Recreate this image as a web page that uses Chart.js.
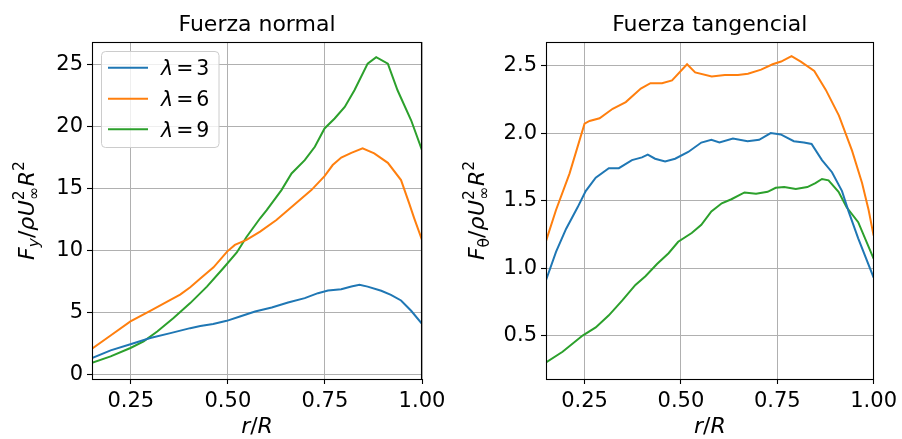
<!DOCTYPE html>
<html><head><meta charset="utf-8">
<script src="https://cdn.jsdelivr.net/npm/chart.js@4"></script>
<style>
html,body{margin:0;padding:0;background:#fff;}
#wrap{position:relative;width:902px;height:439px;overflow:hidden;}
canvas{position:absolute;top:0;}
</style></head><body>
<div id="wrap">
<canvas id="c1" width="451" height="439" style="left:0"></canvas>
<canvas id="c2" width="451" height="439" style="left:451px"></canvas>
</div>
<script>
// ---------- data ----------
const seriesLabels = ['3', '6', '9'];
const colors = ['#1f77b4', '#ff7f0e', '#2ca02c'];

// Fuerza normal
const rN3 = [0.15, 0.198, 0.249, 0.300, 0.352, 0.403, 0.429, 0.462, 0.497, 0.531, 0.570, 0.613, 0.655, 0.698, 0.732, 0.758, 0.792, 0.818, 0.839, 0.860, 0.895, 0.920, 0.946, 0.972, 1.0];
const fN3 = [1.33, 1.96, 2.45, 2.95, 3.35, 3.75, 3.92, 4.08, 4.34, 4.69, 5.09, 5.42, 5.82, 6.17, 6.57, 6.78, 6.89, 7.10, 7.24, 7.10, 6.76, 6.44, 5.98, 5.15, 4.1];
const rN6 = [0.15, 0.198, 0.249, 0.300, 0.352, 0.377, 0.403, 0.429, 0.463, 0.498, 0.518, 0.548, 0.583, 0.625, 0.655, 0.715, 0.749, 0.770, 0.792, 0.818, 0.847, 0.877, 0.912, 0.946, 0.967, 0.980, 1.0];
const fN6 = [2.1, 3.16, 4.29, 5.15, 6.03, 6.45, 7.05, 7.75, 8.65, 9.92, 10.46, 10.86, 11.53, 12.47, 13.27, 14.88, 16.0, 16.9, 17.5, 17.88, 18.24, 17.84, 17.08, 15.69, 13.81, 12.6, 10.86];
const rN9 = [0.15, 0.198, 0.249, 0.283, 0.318, 0.360, 0.403, 0.446, 0.488, 0.523, 0.548, 0.583, 0.600, 0.638, 0.664, 0.698, 0.724, 0.749, 0.775, 0.801, 0.826, 0.860, 0.882, 0.912, 0.937, 0.972, 1.0];
const fN9 = [0.95, 1.47, 2.15, 2.68, 3.48, 4.56, 5.77, 7.10, 8.58, 9.85, 11.1, 12.61, 13.27, 14.88, 16.22, 17.3, 18.37, 19.85, 20.65, 21.58, 22.93, 25.08, 25.6, 25.08, 22.93, 20.51, 18.1];

// Fuerza tangencial
const rT3 = [0.15, 0.176, 0.202, 0.232, 0.253, 0.279, 0.313, 0.339, 0.373, 0.399, 0.414, 0.433, 0.459, 0.485, 0.519, 0.553, 0.579, 0.600, 0.635, 0.673, 0.703, 0.733, 0.759, 0.793, 0.819, 0.839, 0.866, 0.892, 0.918, 0.935, 0.960, 1.0];
const fT3 = [0.91, 1.12, 1.29, 1.45, 1.57, 1.67, 1.74, 1.74, 1.80, 1.82, 1.84, 1.81, 1.79, 1.81, 1.86, 1.93, 1.95, 1.93, 1.96, 1.94, 1.95, 2.00, 1.99, 1.94, 1.93, 1.92, 1.80, 1.71, 1.57, 1.42, 1.22, 0.93];
const rT6 = [0.15, 0.176, 0.211, 0.25, 0.263, 0.289, 0.323, 0.357, 0.396, 0.421, 0.451, 0.477, 0.516, 0.537, 0.580, 0.614, 0.648, 0.674, 0.708, 0.738, 0.760, 0.787, 0.811, 0.846, 0.876, 0.910, 0.944, 0.970, 0.987, 1.0];
const fT6 = [1.2, 1.43, 1.70, 2.07, 2.09, 2.11, 2.18, 2.23, 2.33, 2.37, 2.37, 2.39, 2.51, 2.45, 2.42, 2.43, 2.43, 2.44, 2.47, 2.51, 2.53, 2.57, 2.53, 2.46, 2.32, 2.13, 1.87, 1.63, 1.43, 1.24];
const rT9 = [0.15, 0.193, 0.245, 0.279, 0.313, 0.348, 0.382, 0.408, 0.438, 0.468, 0.493, 0.528, 0.553, 0.579, 0.606, 0.631, 0.665, 0.695, 0.725, 0.746, 0.768, 0.798, 0.828, 0.849, 0.866, 0.883, 0.909, 0.930, 0.960, 1.0];
const fT9 = [0.30, 0.38, 0.50, 0.56, 0.65, 0.76, 0.875, 0.94, 1.03, 1.11, 1.195, 1.26, 1.32, 1.42, 1.48, 1.51, 1.56, 1.55, 1.565, 1.595, 1.60, 1.585, 1.60, 1.63, 1.66, 1.65, 1.565, 1.45, 1.34, 1.07];

const xTicks = [0.25, 0.50, 0.75, 1.00];
const yTicksN = [0, 5, 10, 15, 20, 25];
const yTicksT = [0.5, 1.0, 1.5, 2.0, 2.5];
const titles = ['Fuerza normal', 'Fuerza tangencial'];

// ---------- helpers ----------
const FONT = '"DejaVu Sans", "Liberation Sans", sans-serif';
const FS = 21;      // tick labels
const FT = 22;      // titles
const FL = 22;      // axis labels
const FSUB = 15.5;  // sub/superscripts
function pts(xs, ys) { return xs.map((v, i) => ({ x: v, y: ys[i] })); }

function drawMath(ctx, pieces, x0, y0) {
  let x = x0;
  for (const p of pieces) {
    if (p.stack) {
      let w = 0;
      for (const q of p.stack) {
        ctx.font = (q.it ? 'italic ' : '') + q.s + 'px ' + FONT;
        ctx.fillText(q.t, x, y0 + q.dy);
        w = Math.max(w, ctx.measureText(q.t).width);
      }
      x += w;
    } else {
      ctx.font = (p.it ? 'italic ' : '') + p.s + 'px ' + FONT;
      ctx.fillText(p.t, x + (p.dx || 0), y0 + p.dy);
      x += ctx.measureText(p.t).width + (p.dx || 0);
    }
  }
  return x - x0;
}
function mathWidth(ctx, pieces) {
  let w = 0;
  for (const p of pieces) {
    if (p.stack) {
      let m = 0;
      for (const q of p.stack) { ctx.font = (q.it ? 'italic ' : '') + q.s + 'px ' + FONT; m = Math.max(m, ctx.measureText(q.t).width); }
      w += m;
    } else { ctx.font = (p.it ? 'italic ' : '') + p.s + 'px ' + FONT; w += ctx.measureText(p.t).width + (p.dx || 0); }
  }
  return w;
}

function ylabelPieces(sub) {
  return [
    { t: 'F', it: true, s: FL, dy: 0 },
    { t: sub, it: sub === 'y', s: FSUB, dy: 4.5 },
    { t: '/', it: false, s: FL, dy: 0 },
    { t: 'ρ', it: true, s: FL, dy: 0 },
    { t: 'U', it: true, s: FL, dy: 0, dx: 0.5 },
    { stack: [{ t: '∞', it: false, s: FSUB, dy: 4.5 }, { t: '2', it: false, s: FSUB, dy: -10 }] },
    { t: 'R', it: true, s: FL, dy: 0, dx: 1 },
    { t: '2', it: false, s: FSUB, dy: -10 }
  ];
}

const decorPlugin = {
  id: 'decor',
  afterDraw(chart, args, o) {
    const ctx = chart.ctx, a = chart.chartArea;
    ctx.save();
    // frame
    ctx.strokeStyle = '#000'; ctx.lineWidth = 1.1;
    ctx.strokeRect(Math.round(a.left) + 0.5, Math.round(a.top) + 0.5, Math.round(a.right - a.left) - 1, Math.round(a.bottom - a.top));
    ctx.fillStyle = '#000';
    ctx.textBaseline = 'alphabetic';
    // title
    ctx.font = FT + 'px ' + FONT; ctx.textAlign = 'center';
    ctx.fillText(o.title, (a.left + a.right) / 2, 31);
    ctx.textAlign = 'left';
    // x label r/R
    const xl = [{ t: 'r', it: true, s: FL, dy: 0 }, { t: '/', it: false, s: FL, dy: 0 }, { t: 'R', it: true, s: FL, dy: 0 }];
    const xw = mathWidth(ctx, xl);
    drawMath(ctx, xl, (a.left + a.right) / 2 - xw / 2, 433);
    // y label
    const yl = ylabelPieces(o.sub);
    const yw = mathWidth(ctx, yl);
    ctx.save();
    ctx.translate(o.ylx, (a.top + a.bottom) / 2);
    ctx.rotate(-Math.PI / 2);
    drawMath(ctx, yl, -yw / 2, 0);
    ctx.restore();
    // legend
    if (o.legend) {
      const lx = 101.5, ly = 51.5, lw = 117.5, lh = 96, r = 4;
      ctx.beginPath();
      ctx.moveTo(lx + r, ly); ctx.lineTo(lx + lw - r, ly); ctx.arcTo(lx + lw, ly, lx + lw, ly + r, r);
      ctx.lineTo(lx + lw, ly + lh - r); ctx.arcTo(lx + lw, ly + lh, lx + lw - r, ly + lh, r);
      ctx.lineTo(lx + r, ly + lh); ctx.arcTo(lx, ly + lh, lx, ly + lh - r, r);
      ctx.lineTo(lx, ly + r); ctx.arcTo(lx, ly, lx + r, ly, r); ctx.closePath();
      ctx.fillStyle = 'rgba(255,255,255,0.8)'; ctx.fill();
      ctx.strokeStyle = '#cccccc'; ctx.lineWidth = 1; ctx.stroke();
      const rows = [67.7, 98.7, 129.3];
      seriesLabels.forEach((lab, i) => {
        ctx.strokeStyle = colors[i]; ctx.lineWidth = 2;
        ctx.beginPath(); ctx.moveTo(108, rows[i]); ctx.lineTo(148, rows[i]); ctx.stroke();
        ctx.fillStyle = '#000';
        drawMath(ctx, [{ t: 'λ', it: true, s: 20.5, dy: 0 }, { t: '=', it: false, s: 20.5, dy: 0, dx: 3 }, { t: lab, it: false, s: 20.5, dy: 0, dx: 3 }], 161, rows[i] + 7.5);
      });
    }
    ctx.restore();
  }
};

function makePanel(id, data, yMin, yMax, yTicks, yFmt, yWidth, rightPad, deco) {
  return new Chart(document.getElementById(id), {
    type: 'line',
    data: {
      datasets: data.map((d, i) => ({
        label: 'λ = ' + seriesLabels[i],
        data: d,
        borderColor: colors[i],
        borderWidth: 2,
        pointRadius: 0,
        tension: 0,
        fill: false
      }))
    },
    options: {
      responsive: false,
      animation: false,
      devicePixelRatio: 1,
      layout: { padding: { left: 0, top: 42, right: rightPad, bottom: 0 } },
      plugins: { legend: { display: false }, title: { display: false }, tooltip: { enabled: false }, decor: deco },
      scales: {
        x: {
          type: 'linear', min: 0.15, max: 1.0,
          afterBuildTicks: s => { s.ticks = xTicks.map(v => ({ value: v })); },
          afterFit: s => { s.height = 60; },
          ticks: { callback: v => v.toFixed(2), font: { family: FONT, size: FS }, color: '#000', padding: 5, maxRotation: 0, autoSkip: false },
          grid: { color: '#b0b0b0', lineWidth: 1, tickLength: 5, tickColor: '#000', tickWidth: 1.1 },
          border: { display: false }
        },
        y: {
          type: 'linear', min: yMin, max: yMax,
          afterBuildTicks: s => { s.ticks = yTicks.map(v => ({ value: v })); },
          afterFit: s => { s.width = yWidth; },
          ticks: { callback: yFmt, font: { family: FONT, size: FS }, color: '#000', padding: 4, autoSkip: false },
          grid: { color: '#b0b0b0', lineWidth: 1, tickLength: 5, tickColor: '#000', tickWidth: 1.1 },
          border: { display: false }
        }
      }
    },
    plugins: [decorPlugin]
  });
}

makePanel('c1', [pts(rN3, fN3), pts(rN6, fN6), pts(rN9, fN9)], -0.35, 26.82, yTicksN, v => String(v), 92, 29,
  { title: titles[0], sub: 'y', ylx: 34, legend: true });
makePanel('c2', [pts(rT3, fT3), pts(rT6, fT6), pts(rT9, fT9)], 0.178, 2.675, yTicksT, v => v.toFixed(1), 95, 26,
  { title: titles[1], sub: 'θ', ylx: 33, legend: false });
</script>
</body></html>
